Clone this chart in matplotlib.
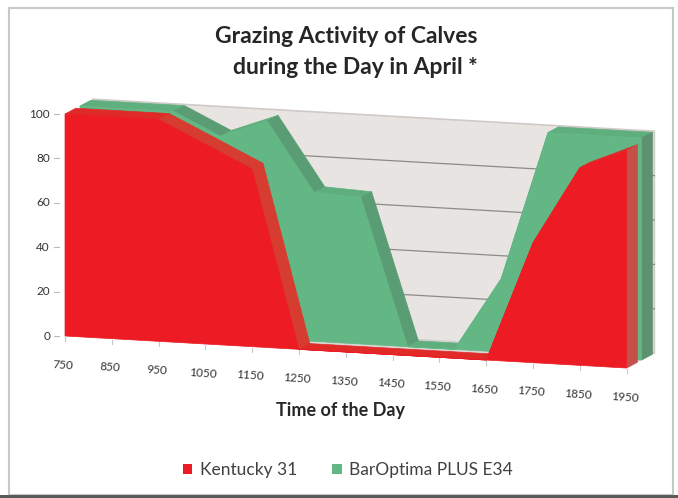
import numpy as np
import matplotlib.pyplot as plt
from matplotlib.patches import Polygon, Rectangle, Patch

# data (share of calves grazing, %)
times = ['750', '850', '950', '1050', '1150', '1250', '1350',
         '1450', '1550', '1650', '1750', '1850', '1950']
kentucky = [100, 100, 100, 90, 80, 0, 0, 0, 0, 0, 54, 89, 98]
baroptima = [100, 100, 100, 90, 98, 67, 66, 0, 0, 33, 100, 100, 100]
y_ticks = [0, 20, 40, 60, 80, 100]

plt.rcParams['font.family'] = ['Lato', 'DejaVu Sans']

# faux 3d projection (Excel style 3-D area), in pixel units of the figure
X0, Y0 = 65, 336      # front-left corner of the floor
SX, SLOPE = 46.8, 2.67  # step per category, drop of the floor per category
SY = 2.22             # pixels per percent
DX, DY = 15, 8        # shift per depth row


def proj(i, v, d):
    return X0 + i*SX + d*DX, Y0 + i*SLOPE - v*SY - d*DY


def ribbon(ax, vals, d0, d1, c_front, c_flat, c_top, c_side):
    n = len(vals)
    # top surfaces (descending parts are darker)
    for k in range(n-1):
        pts = [proj(k, vals[k], d0), proj(k+1, vals[k+1], d0),
               proj(k+1, vals[k+1], d1), proj(k, vals[k], d1)]
        c = c_top if vals[k+1] < vals[k] - 3 else c_flat
        ax.add_patch(Polygon(pts, closed=True, fc=c, ec=c, lw=0.5, zorder=3))
    # right end
    pts = [proj(n-1, 0, d0), proj(n-1, vals[-1], d0),
           proj(n-1, vals[-1], d1), proj(n-1, 0, d1)]
    ax.add_patch(Polygon(pts, closed=True, fc=c_side, ec=c_side, lw=0.5, zorder=3))
    # front face
    pts = [proj(k, vals[k], d0) for k in range(n)]
    pts += [proj(n-1, 0, d0), proj(0, 0, d0)]
    ax.add_patch(Polygon(pts, closed=True, fc=c_front, ec=c_front, lw=0.5, zorder=3))


fig = plt.figure(figsize=(6.78, 4.98), dpi=100)
ax = fig.add_axes([0, 0, 1, 1])
ax.set_xlim(0, 678)
ax.set_ylim(498, 0)
ax.axis('off')

n = len(times)
WALL = 1.85

# back wall + floor
wall = [proj(0, 0, WALL), proj(n-1, 0, WALL), proj(n-1, 100, WALL), proj(0, 100, WALL)]
ax.add_patch(Polygon(wall, closed=True, fc='#e7e4e2', ec='#cfcac8', lw=1.2, zorder=1))
floor = [proj(0, 0, 0), proj(n-1, 0, 0), proj(n-1, 0, WALL), proj(0, 0, WALL)]
ax.add_patch(Polygon(floor, closed=True, fc='#d9d6d4', ec='none', zorder=1))
for v in y_ticks[1:-1]:
    (xa, ya), (xb, yb) = proj(0, v, WALL), proj(n-1, v, WALL)
    ax.plot([xa, xb], [ya, yb], color='#8e8a88', lw=0.9, zorder=2)

ribbon(ax, baroptima, 1.0, 1.72, '#63b784', '#5fae7e', '#5a9c74', '#5e9170')
ribbon(ax, kentucky, 0.0, 0.72, '#ed1c24', '#e02a28', '#d63c2f', '#c4504a')

# y axis
for v in y_ticks:
    x, y = proj(0, v, 0)
    ax.plot([x-11, x-6], [y, y], color='#bcbcbc', lw=0.8)
    ax.text(x-15, y, str(v), ha='right', va='center', fontsize=8.5, color='#333333')

# x axis
for i, t in enumerate(times):
    x, y = proj(i, 0, 0)
    ax.plot([x, x], [y+1, y+5], color='#c8c8c8', lw=0.8)
    ax.text(x-2, y+29, t, ha='center', va='center', fontsize=8.5,
            color='#333333', rotation=-4)
ax.text(340, 410, 'Time of the Day', ha='center', va='center',
        fontsize=13, fontweight='bold', color='#262626')

# title
ax.text(346, 36, 'Grazing Activity of Calves', ha='center', va='center',
        fontsize=16.5, fontweight='bold', color='#262626')
ax.text(355, 67, 'during the Day in April *', ha='center', va='center',
        fontsize=16.5, fontweight='bold', color='#262626')

# legend
handles = [Patch(fc='#ed1c24', ec='none', label='Kentucky 31'),
           Patch(fc='#63b784', ec='none', label='BarOptima PLUS E34')]
leg = ax.legend(handles=handles, loc='center', bbox_to_anchor=(348/678, 1-470/498),
                ncol=2, frameon=False, fontsize=12.5, handlelength=0.55,
                handleheight=0.55, handletextpad=0.45, columnspacing=2.0)
for txt in leg.get_texts():
    txt.set_color('#404040')

# frame of the picture
ax.add_patch(Rectangle((8.5, 8), 664, 487, fill=False, ec='#c8c8c8', lw=1.5))
ax.add_patch(Rectangle((0, 495), 678, 3, fc='#5a5a5a', ec='none'))

fig.savefig('out.png', dpi=100)
